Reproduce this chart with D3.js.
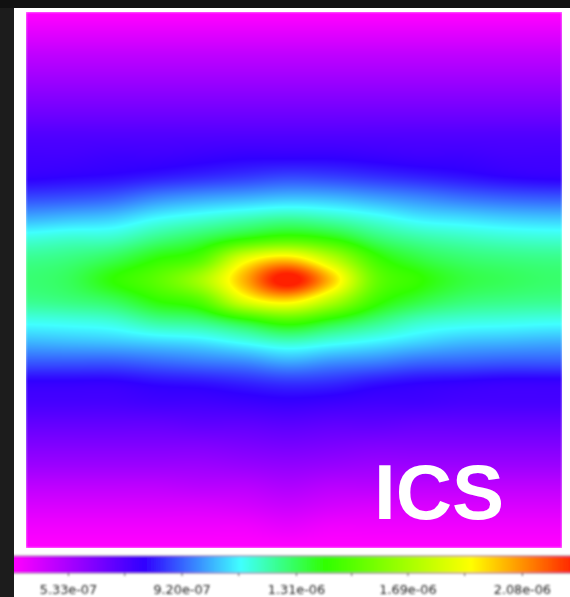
<!DOCTYPE html>
<html><head><meta charset="utf-8">
<script src="https://cdn.jsdelivr.net/npm/d3@7"></script>
<style>
html,body{margin:0;padding:0;background:#1c1c1c;overflow:hidden}
#wrap{position:relative;width:570px;height:597px}
canvas,svg{position:absolute;left:0;top:0}
</style></head><body><div id="wrap"></div>
<script>
// values are in units of 1e-8
const blue = [35,41,48,54,60,66,72];
const col0  = [...blue,75,78,88,101,115,124,127,124,113,102,90,78,74,68,62,56,49,43,38,35];
const col1  = [...blue,75,79,89,103,117,126,130,126,114,103,90,78,74,68,62,56,49,43,38,35];
const col2  = [...blue,76,80,91,105,118,131,140,130,116,104,90,78,74,68,62,56,49,43,38,35];
const col3  = [...blue,76,82,96,111,125,140,150,140,123,106,92,80,75,68,62,56,49,43,38,35];
const col4  = [...blue,77,84,99,115,131,149,168,149,126,108,94,81,75,69,62,56,50,43,38,35];
const col5  = [...blue,78,86,101,119,140,184,201,182,136,113,96,83,76,69,63,57,50,44,38,35];
const col6  = [...blue,78,88,103,122,146,197,228,194,146,118,100,85,77,70,64,58,52,46,40,35];
const col7  = [...blue,78,87,102,119,140,174,198,172,136,114,97,84,76,69,63,57,50,44,38,35];
const col8  = [...blue,77,85,99,114,128,144,153,144,126,110,95,81,75,69,62,56,50,43,38,35];
const col9  = [...blue,76,83,96,109,122,133,141,133,118,106,92,79,75,68,62,56,49,43,38,35];
const col10 = [...blue,76,81,93,107,119,128,133,127,115,103,91,78,74,68,62,56,49,43,38,35];
const col11 = [...blue,75,79,91,105,117,126,130,125,114,102,90,77,74,68,62,56,49,43,38,35];
const col12 = [...blue,75,78,90,104,116,125,128,124,113,101,90,77,74,68,62,56,49,43,38,35];
const col13 = [...blue,75,78,90,104,116,125,128,124,113,101,90,77,74,68,62,56,49,43,38,35];
const columns = [col0,col1,col2,col3,col4,col5,col6,col7,col8,col9,col10,col11,col12,col13];

const colorValues = [35,78.9,111.3,140,189,224];
const colorStops  = ["#ff00ff","#3000ff","#40ffff","#30ff00","#ffff00","#ff2000"];
const tickValues  = [53.3,92,131,169,208];
const tickLabels  = ["5.33e-07","9.20e-07","1.31e-06","1.69e-06","2.08e-06"];
const minorValues = [72.65,111.5,150,188.5];
const title = "ICS";

const W=570,H=597;
const plot={x0:26,x1:562,y0:12,y1:548,colStep:43.67};
const color=d3.scaleLinear().domain(colorValues).range(colorStops).clamp(true);
const xCol=d3.scaleLinear().domain([0,columns.length-1]).range([plot.x0,plot.x0+plot.colStep*(columns.length-1)]);
const yRow=d3.scaleLinear().domain([0,col0.length-1]).range([plot.y0,plot.y1]);
const xBar=d3.scaleLinear().domain([34.9,224.4]).range([14,570]);

const wrap=d3.select("#wrap");
const canvas=wrap.append("canvas").attr("width",W).attr("height",H).node();
const ctx=canvas.getContext("2d");
ctx.fillStyle="#fff";ctx.fillRect(14,8,W-14,H-8);
ctx.fillStyle="#111";ctx.fillRect(0,0,W,8);

// smooth resampling of the grid, in value space
function cr(p0,p1,p2,p3,t){return 0.5*(2*p1+(p2-p0)*t+(2*p0-5*p1+4*p2-p3)*t*t+(3*p1-p0-3*p2+p3)*t*t*t);}
const at=(i,j)=>columns[Math.max(0,Math.min(columns.length-1,i))][Math.max(0,Math.min(col0.length-1,j))];
function sample(u,v){
  const i=Math.floor(u),j=Math.floor(v),s=u-i,t=v-j,r=[];
  for(let k=-1;k<=2;k++) r.push(cr(at(i-1,j+k),at(i,j+k),at(i+1,j+k),at(i+2,j+k),s));
  return cr(r[0],r[1],r[2],r[3],t);
}
const img=ctx.getImageData(plot.x0,plot.y0,plot.x1-plot.x0,plot.y1-plot.y0);
for(let py=0;py<img.height;py++)for(let px=0;px<img.width;px++){
  const c=d3.rgb(color(sample(xCol.invert(plot.x0+px+.5),yRow.invert(plot.y0+py+.5))));
  const o=(py*img.width+px)*4;
  img.data[o]=c.r;img.data[o+1]=c.g;img.data[o+2]=c.b;img.data[o+3]=255;
}
ctx.putImageData(img,plot.x0,plot.y0);

const svg=wrap.append("svg").attr("width",W).attr("height",H);
const defs=svg.append("defs");
const soft=defs.append("filter").attr("id","soft").attr("filterUnits","userSpaceOnUse")
  .attr("x",0).attr("y",0).attr("width",W).attr("height",H);
soft.append("feGaussianBlur").attr("stdDeviation",0.9);
const grad=defs.append("linearGradient").attr("id","bar");
colorValues.forEach((v,i)=>grad.append("stop").attr("offset",(xBar(v)-14)/556).attr("stop-color",colorStops[i]));

svg.append("rect").attr("x",plot.x0-0.5).attr("y",plot.y0-0.5).attr("width",plot.x1-plot.x0+1).attr("height",plot.y1-plot.y0+1)
  .attr("fill","none").attr("stroke","#fff").attr("stroke-width",1).attr("filter","url(#soft)");

const bar=svg.append("g").attr("filter","url(#soft)");
bar.append("rect").attr("x",10).attr("y",555.5).attr("width",566).attr("height",18).attr("fill","#777");
bar.append("rect").attr("x",10).attr("y",556.5).attr("width",566).attr("height",16).attr("fill",color(35));
bar.append("rect").attr("x",14).attr("y",556.5).attr("width",562).attr("height",16).attr("fill","url(#bar)");

const axis=d3.axisBottom(xBar).tickValues(tickValues).tickSize(3).tickPadding(9)
  .tickFormat((d,i)=>tickLabels[i]);
const ax=bar.append("g").attr("transform","translate(0,573)").call(axis);
ax.select(".domain").remove();
ax.selectAll("line").attr("stroke","#555");
ax.selectAll("text").attr("fill","#222").attr("font-family","'DejaVu Sans',sans-serif").attr("font-size",12.8);
bar.append("g").selectAll("line").data(minorValues).join("line")
  .attr("x1",d=>xBar(d)).attr("x2",d=>xBar(d)).attr("y1",573).attr("y2",576).attr("stroke","#555");

svg.append("rect").attr("x",0).attr("y",540).attr("width",14).attr("height",57).attr("fill","#1c1c1c");

svg.append("text").attr("x",374).attr("y",519).attr("fill","#fff")
  .attr("font-family","'Liberation Sans',Arial,sans-serif").attr("font-weight","bold").attr("font-size",78).text(title);
</script></body></html>
